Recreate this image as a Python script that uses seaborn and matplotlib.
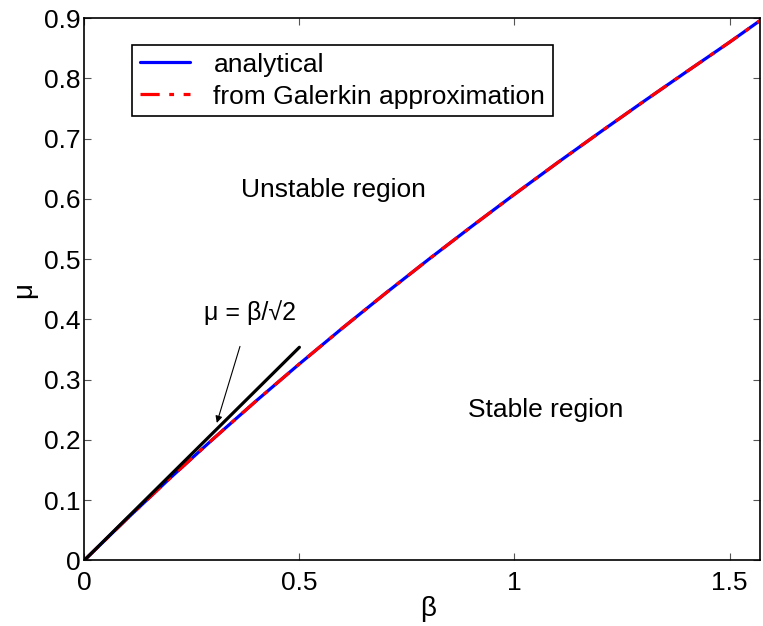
import numpy as np
import pandas as pd
import matplotlib
matplotlib.use("Agg")
import matplotlib.pyplot as plt
import seaborn as sns

beta = [0.0, 0.1, 0.2, 0.3, 0.4, 0.5, 0.6, 0.7, 0.8, 0.9, 1.0, 1.1, 1.2, 1.3, 1.4, 1.5, 1.5708]
mu_analytical = [0.0, 0.0695, 0.1368, 0.2018, 0.2649, 0.3260, 0.3854, 0.4431, 0.4993, 0.5540,
                 0.6076, 0.6600, 0.7112, 0.7616, 0.8111, 0.8601, 0.8960]
mu_galerkin = [0.0, 0.0695, 0.1368, 0.2018, 0.2649, 0.3260, 0.3854, 0.4431, 0.4993, 0.5540,
               0.6076, 0.6600, 0.7112, 0.7616, 0.8111, 0.8601, 0.8960]
beta_lin = [0.0, 0.5]
mu_lin = [0.0, 0.3536]

sns.set_theme(style="white")
plt.rcParams['font.family'] = ['Liberation Sans', 'DejaVu Sans']
plt.rcParams['text.color'] = 'black'
plt.rcParams['axes.labelcolor'] = 'black'

fig = plt.figure(figsize=(7.63, 6.26), dpi=100)
ax = fig.add_axes([0.1105, 0.105, 0.8856, 0.866])

df = pd.DataFrame({"beta": beta, "a": mu_analytical, "g": mu_galerkin})
sns.lineplot(data=df, x="beta", y="a", ax=ax, color="#0000ff", lw=2.3, label="analytical", sort=False)
sns.lineplot(data=df, x="beta", y="g", ax=ax, color="#ff0000", lw=2.3, label="from Galerkin approximation",
             sort=False)
ax.lines[1].set_dashes([6, 3, 1.5, 3])
sns.lineplot(x=beta_lin, y=mu_lin, ax=ax, color="black", lw=2.3, legend=False)

ax.set_xlim(0, 1.5708)
ax.set_ylim(0, 0.9)
ax.set_xticks([0, 0.5, 1, 1.5])
ax.set_xticklabels(["0", "0.5", "1", "1.5"])
ax.set_yticks([0, 0.1, 0.2, 0.3, 0.4, 0.5, 0.6, 0.7, 0.8, 0.9])
ax.set_yticklabels(["0", "0.1", "0.2", "0.3", "0.4", "0.5", "0.6", "0.7", "0.8", "0.9"])
ax.tick_params(direction="in", length=5, width=0.8, colors="#555555", labelcolor="black",
               labelsize=19, top=True, right=True, bottom=True, left=True)
ax.tick_params(axis="y", pad=3)
ax.tick_params(axis="x", pad=8)
for s in ax.spines.values():
    s.set_color("black")
    s.set_linewidth(1.2)

ax.set_xlabel("β", fontsize=20, color="black")
ax.set_ylabel("μ", fontsize=20, color="black")
ax.xaxis.set_label_coords(0.509, -0.065)
ax.yaxis.set_label_coords(-0.070, 0.498)

ax.text(0.579, 0.614, "Unstable region", fontsize=19, ha="center", va="center", color="black")
ax.text(1.072, 0.250, "Stable region", fontsize=19, ha="center", va="center", color="black")
ax.annotate("μ = β/√2", xy=(0.308, 0.228), xytext=(0.386, 0.412), fontsize=18,
            ha="center", va="center", color="black",
            arrowprops=dict(arrowstyle="-|>", color="black", lw=0.8, shrinkA=14, shrinkB=0,
                            mutation_scale=10))

leg = ax.legend(loc="upper left", bbox_to_anchor=(0.070, 0.951), fontsize=19, frameon=True,
                fancybox=False, edgecolor="black", handlelength=1.9, borderpad=0.3,
                labelspacing=0.3, handletextpad=0.9, borderaxespad=0)
leg.get_frame().set_linewidth(1.2)
leg.get_frame().set_alpha(1)
for t in leg.get_texts():
    t.set_color("black")
leg.get_lines()[1].set_dashes([6, 3, 1.5, 3])

fig.savefig("out.png", dpi=100)
